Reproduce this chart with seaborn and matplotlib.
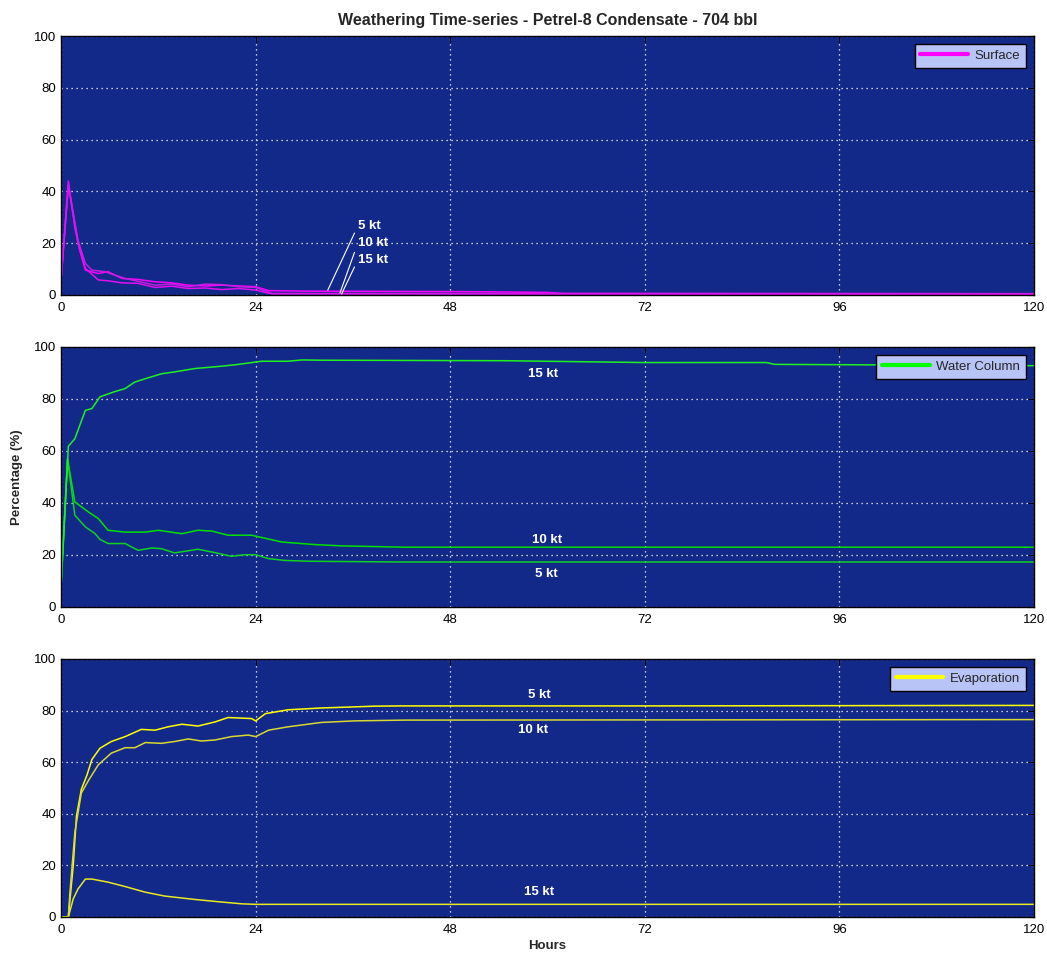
import numpy as np
import pandas as pd
import seaborn as sns
import matplotlib.pyplot as plt
from matplotlib.lines import Line2D

#### DATA ###
# Surface
SURF_5_H = [0, 0.9, 1.7, 2.3, 3, 4.6, 5.8, 7.5, 9.5, 11.6, 13.6, 15.7, 17.8, 19.8, 21.9, 24, 25.6, 30, 40, 50, 60, 62, 120]
SURF_5 = [5.8, 44, 26, 17.3, 9.6, 8.3, 9, 6.4, 6, 5.1, 4.7, 3.8, 3.5, 3.8, 3.5, 3.2, 1.7, 1.5, 1.4, 1.3, 1.0, 0.6, 0.5]
SURF_10_H = [0, 0.9, 2.1, 3, 3.8, 5.4, 6.6, 7.9, 11.6, 13.6, 15.7, 17.8, 19.8, 21.9, 24, 26, 120]
SURF_10 = [5.8, 42.7, 21, 12.2, 9.6, 9, 7.7, 6.4, 3.8, 4.2, 3.2, 4.2, 4.0, 3.2, 2.9, 0.6, 0.5]
SURF_15_H = [0, 0.9, 2.1, 3, 4.6, 5.8, 7.5, 9.5, 11.6, 13.6, 15.7, 17.8, 19.8, 21.9, 24, 26, 120]
SURF_15 = [5.8, 42, 19.9, 10.3, 5.8, 5.5, 4.7, 4.5, 2.9, 3.4, 2.5, 2.7, 2.1, 2.5, 1.9, 0.4, 0.3]

# Water column
WC_5_H = [0, 0.8, 1.7, 3, 4.2, 4.8, 5.8, 7.9, 9.5, 11.2, 12.4, 14, 16.9, 19, 21, 22.7, 24, 25.6, 27.6, 30.5, 42, 120]
WC_5 = [8, 57, 35.3, 30.8, 28.2, 26, 24.4, 24.4, 21.8, 22.7, 22.4, 20.8, 22.2, 20.9, 19.5, 20.1, 20.1, 18.6, 17.9, 17.6, 17.3, 17.3]
WC_10_H = [0, 0.8, 1.7, 3.4, 4.6, 5.8, 7.9, 10.4, 12, 14.9, 16.9, 18.6, 20.6, 23.5, 27.2, 31.3, 34.6, 42.4, 120]
WC_10 = [8, 57, 40.4, 36.5, 34, 29.5, 28.8, 28.8, 29.5, 28.2, 29.5, 29.2, 27.6, 27.6, 25, 24, 23.5, 23, 23]
WC_15_H = [0, 0.9, 1.7, 3, 3.8, 4.8, 6.5, 7.9, 9.1, 10.4, 12.4, 14, 16.5, 19.8, 21.9, 24.7, 28, 29.7, 32, 55, 72, 87, 88, 120]
WC_15 = [7.7, 61.8, 64.7, 75.6, 76.3, 80.8, 82.7, 84, 86.5, 87.8, 89.7, 90.4, 91.7, 92.6, 93.3, 94.5, 94.5, 95, 94.9, 94.7, 94, 94, 93.3, 92.8]

# Evaporation
EV_5_H = [0, 0.9, 1.5, 1.9, 2.5, 3.2, 3.8, 4.8, 6.2, 7.9, 9.9, 11.6, 13.2, 14.9, 16.9, 19, 20.6, 23.5, 24, 25.2, 28, 32.1, 38.7, 42, 72, 120]
EV_5 = [0, 0, 19.9, 39, 49.4, 55, 61, 65.4, 68, 69.9, 72.7, 72.4, 73.7, 74.7, 74, 75.6, 77.3, 76.9, 76, 78.8, 80.3, 81, 81.7, 81.8, 81.8, 82]
EV_10_H = [0, 0.9, 1.1, 1.7, 2.5, 3.4, 4.6, 6.2, 7.9, 9.1, 10.4, 12.4, 14, 15.7, 17.3, 19, 21, 23.1, 24, 25.6, 28, 32.1, 36.2, 42.4, 120]
EV_10 = [0, 0, 9.6, 32.7, 48, 53, 59, 63.5, 65.6, 65.6, 67.6, 67.3, 68, 69, 68.2, 68.6, 69.9, 70.5, 69.9, 72.4, 73.7, 75.4, 76, 76.3, 76.5]
EV_15_H = [0, 0.9, 1.5, 2.1, 3, 3.8, 5.8, 7.9, 10.4, 12.8, 16.5, 19.8, 22.3, 24, 120]
EV_15 = [0, 0, 7, 10.9, 14.7, 14.7, 13.5, 11.8, 9.6, 8.1, 6.8, 5.8, 5.1, 4.9, 4.9]

TITLE = "Weathering Time-series - Petrel-8 Condensate - 704 bbl"
X_TICKS = [0, 24, 48, 72, 96, 120]
Y_TICKS = [0, 20, 40, 60, 80, 100]

BG = "#13298A"
LEGEND_BG = "#B8C4F6"


def to_frame(series):
    rows = []
    for name, hours, vals in series:
        rows.append(pd.DataFrame({"hours": hours, "value": vals, "wind": name}))
    return pd.concat(rows, ignore_index=True)


def style_axes(ax):
    ax.set_facecolor(BG)
    ax.set_xlim(0, 120)
    ax.set_ylim(0, 100)
    ax.set_xticks(X_TICKS)
    ax.set_yticks(Y_TICKS)
    ax.grid(True, color="white", linestyle=(0, (1, 3)), linewidth=0.9)
    ax.tick_params(direction="in", length=4, top=True, right=True, labelsize=9.5, colors="black")
    ax.tick_params(axis="x", pad=5)
    for sp in ax.spines.values():
        sp.set_color("black")
        sp.set_linewidth(1)
    ax.set_xlabel("")
    ax.set_ylabel("")


def add_legend(ax, label, color):
    handle = Line2D([], [], color=color, lw=3)
    leg = ax.legend([handle], [label], loc="upper right", fontsize=9.5, frameon=True,
                    fancybox=False, handlelength=3.6, borderaxespad=0.6,
                    borderpad=0.45, handletextpad=0.5)
    leg.get_frame().set_facecolor(LEGEND_BG)
    leg.get_frame().set_edgecolor("black")
    leg.get_frame().set_alpha(1)


def label(ax, text, x, y):
    ax.text(x, y, text, color="white", fontsize=9.5, fontweight="bold", ha="center", va="center")


if __name__ == "__main__":
    sns.set_style("white")
    plt.rcParams["font.family"] = ["Liberation Sans", "DejaVu Sans"]

    fig = plt.figure(figsize=(10.47, 9.55), dpi=100)
    ax1 = fig.add_axes([0.0583, 0.6911, 0.9293, 0.2712])
    ax2 = fig.add_axes([0.0583, 0.3644, 0.9293, 0.2723])
    ax3 = fig.add_axes([0.0583, 0.0398, 0.9293, 0.2702])

    surf = to_frame([("5 kt", SURF_5_H, SURF_5), ("10 kt", SURF_10_H, SURF_10), ("15 kt", SURF_15_H, SURF_15)])
    wc = to_frame([("5 kt", WC_5_H, WC_5), ("10 kt", WC_10_H, WC_10), ("15 kt", WC_15_H, WC_15)])
    ev = to_frame([("5 kt", EV_5_H, EV_5), ("10 kt", EV_10_H, EV_10), ("15 kt", EV_15_H, EV_15)])

    sns.lineplot(data=surf, x="hours", y="value", hue="wind", ax=ax1, legend=False, lw=1.1,
                 palette=["#FF00FF", "#C020E0", "#E010F0"], sort=False)
    sns.lineplot(data=wc, x="hours", y="value", hue="wind", ax=ax2, legend=False, lw=1.1,
                 palette=["#10D020", "#00E000", "#20F020"], sort=False)
    sns.lineplot(data=ev, x="hours", y="value", hue="wind", ax=ax3, legend=False, lw=1.1,
                 palette=["#FFFF00", "#D8D830", "#E8E820"], sort=False)

    for ax in (ax1, ax2, ax3):
        style_axes(ax)

    add_legend(ax1, "Surface", "#FF00FF")
    add_legend(ax2, "Water Column", "#00FF00")
    add_legend(ax3, "Evaporation", "#FFFF00")

    # surface labels with leader lines
    for text, xy, xytext in [("5 kt", (32.9, 1.9), (36.6, 26.6)),
                             ("10 kt", (34.4, 0.8), (36.6, 20.0)),
                             ("15 kt", (34.6, 0.4), (36.6, 13.5))]:
        ax1.annotate(text, xy=xy, xytext=xytext, color="white", fontsize=9.5, fontweight="bold",
                     ha="left", va="center",
                     arrowprops=dict(arrowstyle="-", color="white", lw=0.8, shrinkA=0, shrinkB=0,
                                     relpos=(0, 0.5)))

    label(ax2, "15 kt", 59.4, 89.6)
    label(ax2, "10 kt", 60.0, 25.8)
    label(ax2, "5 kt", 59.8, 12.7)
    label(ax3, "5 kt", 59.0, 86.0)
    label(ax3, "10 kt", 58.2, 72.5)
    label(ax3, "15 kt", 59.0, 9.7)

    ax1.set_title(TITLE, fontsize=11.5, fontweight="bold", pad=8)
    ax2.set_ylabel("Percentage (%)", fontsize=9.5, fontweight="bold", labelpad=8)
    ax3.set_xlabel("Hours", fontsize=9.5, fontweight="bold", labelpad=3)

    fig.savefig("out.png", dpi=100, facecolor="white")
